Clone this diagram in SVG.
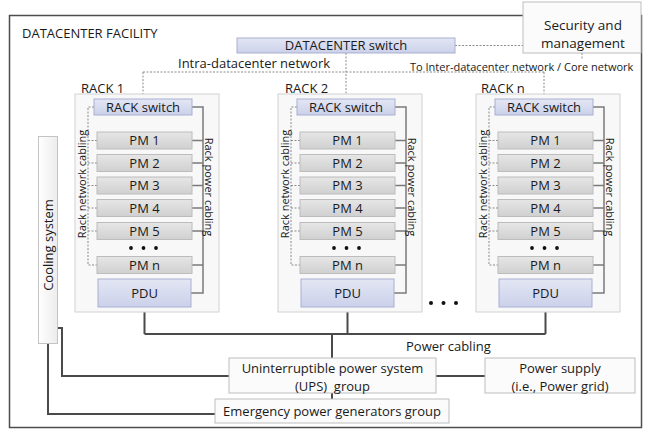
<svg xmlns="http://www.w3.org/2000/svg" width="645" height="434" viewBox="0 0 645 434">
<style>
text{font-family:"Open Sans","Liberation Sans",sans-serif;fill:#1a1a1a;font-size:13px}
.c{text-anchor:middle}
.s11{font-size:11px}
.rack{fill:#f8f8f8;stroke:#d2d2d2;stroke-width:1}
.sw{fill:url(#gBlue);stroke:#a9b0cf;stroke-width:1}
.pm{fill:url(#gGray);stroke:#bcbcbc;stroke-width:1}
.box{fill:#fbfbfb;stroke:#bdbdbd;stroke-width:1}
.net{fill:none;stroke:#8a8a8a;stroke-width:1;stroke-dasharray:2 1.5}
.rp{fill:none;stroke:#7a7a7a;stroke-width:1.5}
.mp{fill:none;stroke:#4a4a4a;stroke-width:2}
.dot{fill:#111}
</style>
<defs>
<linearGradient id="gBlue" x1="0" y1="0" x2="0" y2="1"><stop offset="0" stop-color="#e3e6f4"/><stop offset="1" stop-color="#cbd1ea"/></linearGradient>
<linearGradient id="gGray" x1="0" y1="0" x2="0" y2="1"><stop offset="0" stop-color="#e6e6e6"/><stop offset="1" stop-color="#d0d0d0"/></linearGradient>
<linearGradient id="gCool" x1="0" y1="0" x2="1" y2="0"><stop offset="0" stop-color="#ffffff"/><stop offset="1" stop-color="#ececec"/></linearGradient>
</defs>
<rect x="0" y="0" width="645" height="434" fill="#ffffff"/>
<g id="facility">
<rect x="9.5" y="15.5" width="632" height="412" fill="#ffffff" stroke="#4d4d4d" stroke-width="1.5"/>
<text x="22" y="38">DATACENTER FACILITY</text>
</g>
<g id="connectors">
<path class="net" d="M455,45.5 H523 M346,53 V99 M143,72 H544 M143,72 V99 M544,72 V99 M582,53 V59"/>
<path class="mp" d="M144.5,307 V334 M347.5,307 V334 M545.5,307 V334 M144.5,334 H545.5 M332,334 V358 M436,376 H485 M332,393 V399 M57,328 H62 V376 H229 M48,343 V414 H215"/>
</g>
<g id="security">
<rect class="box" x="523" y="2" width="118" height="51"/>
<text class="c" x="583" y="30" style="font-size:13.5px">Security and</text>
<text class="c" x="583" y="47.5" style="font-size:13.5px">management</text>
</g>
<g id="dc-switch">
<rect class="sw" x="237" y="38" width="218" height="15"/>
<text class="c" x="346" y="50">DATACENTER switch</text>
</g>
<text x="178" y="68">Intra-datacenter network</text>
<text class="s11" x="410" y="71">To Inter-datacenter network / Core network</text>
<g id="rack1">
<rect class="rack" x="75" y="94" width="144" height="218"/>
<text x="81" y="93">RACK 1</text>
<path class="net" d="M94,107 H88 V265 H97 M88,140.5 H97 M88,163 H97 M88,185.5 H97 M88,208 H97 M88,231 H97"/>
<path class="rp" d="M192,107 H203 V293 H191 M192,140.5 H203 M192,163 H203 M192,185.5 H203 M192,208 H203 M192,231 H203 M192,265 H203"/>
<g id="rack1-switch"><rect class="sw" x="94" y="99" width="98" height="16"/><text class="c" x="143" y="111.6">RACK switch</text></g>
<g id="rack1-pm1"><rect class="pm" x="97" y="132" width="95" height="17"/><text class="c" x="144.5" y="145.1">PM 1</text></g>
<g id="rack1-pm2"><rect class="pm" x="97" y="154.5" width="95" height="17"/><text class="c" x="144.5" y="167.6">PM 2</text></g>
<g id="rack1-pm3"><rect class="pm" x="97" y="177" width="95" height="17"/><text class="c" x="144.5" y="190.1">PM 3</text></g>
<g id="rack1-pm4"><rect class="pm" x="97" y="199.5" width="95" height="17"/><text class="c" x="144.5" y="212.6">PM 4</text></g>
<g id="rack1-pm5"><rect class="pm" x="97" y="222.5" width="95" height="17"/><text class="c" x="144.5" y="235.6">PM 5</text></g>
<circle class="dot" cx="131" cy="248" r="1.9"/><circle class="dot" cx="143.5" cy="248" r="1.9"/><circle class="dot" cx="156" cy="248" r="1.9"/>
<g id="rack1-pmn"><rect class="pm" x="97" y="256.5" width="95" height="17"/><text class="c" x="144.5" y="269.6">PM n</text></g>
<g id="rack1-pdu"><rect class="sw" x="98" y="279" width="93" height="28"/><text class="c" x="144.5" y="297.6">PDU</text></g>
<text class="c s11" transform="translate(86,184) rotate(-90)">Rack network cabling</text>
<text class="c s11" transform="translate(205,187) rotate(90)">Rack power cabling</text>
</g>
<g id="rack2" transform="translate(203,0)">
<rect class="rack" x="75" y="94" width="144" height="218"/>
<text x="82" y="93">RACK 2</text>
<path class="net" d="M94,107 H88 V265 H97 M88,140.5 H97 M88,163 H97 M88,185.5 H97 M88,208 H97 M88,231 H97"/>
<path class="rp" d="M192,107 H203 V293 H191 M192,140.5 H203 M192,163 H203 M192,185.5 H203 M192,208 H203 M192,231 H203 M192,265 H203"/>
<g id="rack2-switch"><rect class="sw" x="94" y="99" width="98" height="16"/><text class="c" x="143" y="111.6">RACK switch</text></g>
<g id="rack2-pm1"><rect class="pm" x="97" y="132" width="95" height="17"/><text class="c" x="144.5" y="145.1">PM 1</text></g>
<g id="rack2-pm2"><rect class="pm" x="97" y="154.5" width="95" height="17"/><text class="c" x="144.5" y="167.6">PM 2</text></g>
<g id="rack2-pm3"><rect class="pm" x="97" y="177" width="95" height="17"/><text class="c" x="144.5" y="190.1">PM 3</text></g>
<g id="rack2-pm4"><rect class="pm" x="97" y="199.5" width="95" height="17"/><text class="c" x="144.5" y="212.6">PM 4</text></g>
<g id="rack2-pm5"><rect class="pm" x="97" y="222.5" width="95" height="17"/><text class="c" x="144.5" y="235.6">PM 5</text></g>
<circle class="dot" cx="131" cy="248" r="1.9"/><circle class="dot" cx="143.5" cy="248" r="1.9"/><circle class="dot" cx="156" cy="248" r="1.9"/>
<g id="rack2-pmn"><rect class="pm" x="97" y="256.5" width="95" height="17"/><text class="c" x="144.5" y="269.6">PM n</text></g>
<g id="rack2-pdu"><rect class="sw" x="98" y="279" width="93" height="28"/><text class="c" x="144.5" y="297.6">PDU</text></g>
<text class="c s11" transform="translate(86,184) rotate(-90)">Rack network cabling</text>
<text class="c s11" transform="translate(205,187) rotate(90)">Rack power cabling</text>
</g>
<g id="rackn" transform="translate(401,0)">
<rect class="rack" x="75" y="94" width="144" height="218"/>
<text x="80" y="93">RACK n</text>
<path class="net" d="M94,107 H88 V265 H97 M88,140.5 H97 M88,163 H97 M88,185.5 H97 M88,208 H97 M88,231 H97"/>
<path class="rp" d="M192,107 H203 V293 H191 M192,140.5 H203 M192,163 H203 M192,185.5 H203 M192,208 H203 M192,231 H203 M192,265 H203"/>
<g id="rackn-switch"><rect class="sw" x="94" y="99" width="98" height="16"/><text class="c" x="143" y="111.6">RACK switch</text></g>
<g id="rackn-pm1"><rect class="pm" x="97" y="132" width="95" height="17"/><text class="c" x="144.5" y="145.1">PM 1</text></g>
<g id="rackn-pm2"><rect class="pm" x="97" y="154.5" width="95" height="17"/><text class="c" x="144.5" y="167.6">PM 2</text></g>
<g id="rackn-pm3"><rect class="pm" x="97" y="177" width="95" height="17"/><text class="c" x="144.5" y="190.1">PM 3</text></g>
<g id="rackn-pm4"><rect class="pm" x="97" y="199.5" width="95" height="17"/><text class="c" x="144.5" y="212.6">PM 4</text></g>
<g id="rackn-pm5"><rect class="pm" x="97" y="222.5" width="95" height="17"/><text class="c" x="144.5" y="235.6">PM 5</text></g>
<circle class="dot" cx="131" cy="248" r="1.9"/><circle class="dot" cx="143.5" cy="248" r="1.9"/><circle class="dot" cx="156" cy="248" r="1.9"/>
<g id="rackn-pmn"><rect class="pm" x="97" y="256.5" width="95" height="17"/><text class="c" x="144.5" y="269.6">PM n</text></g>
<g id="rackn-pdu"><rect class="sw" x="98" y="279" width="93" height="28"/><text class="c" x="144.5" y="297.6">PDU</text></g>
<text class="c s11" transform="translate(86,184) rotate(-90)">Rack network cabling</text>
<text class="c s11" transform="translate(205,187) rotate(90)">Rack power cabling</text>
</g>
<g id="rack-ellipsis">
<circle class="dot" cx="431" cy="303" r="2"/><circle class="dot" cx="443.5" cy="303" r="2"/><circle class="dot" cx="456" cy="303" r="2"/>
</g>
<text x="406" y="351">Power cabling</text>
<g id="cooling">
<rect x="38.5" y="136.5" width="19" height="207" fill="url(#gCool)" stroke="#c4c4c4"/>
<text class="c" transform="translate(52.5,245) rotate(-90)">Cooling system</text>
</g>
<g id="ups">
<rect class="box" x="229" y="358" width="207" height="35"/>
<text class="c" x="332.5" y="372.5">Uninterruptible power system</text>
<text class="c" x="332.5" y="391" xml:space="preserve">(UPS)  group</text>
</g>
<g id="power-supply">
<rect class="box" x="485" y="358" width="150" height="35"/>
<text class="c" x="560" y="372.5">Power supply</text>
<text class="c" x="560" y="391">(i.e., Power grid)</text>
</g>
<g id="generators">
<rect class="box" x="215" y="399" width="234" height="24"/>
<text class="c" x="332" y="415.5">Emergency power generators group</text>
</g>
</svg>
